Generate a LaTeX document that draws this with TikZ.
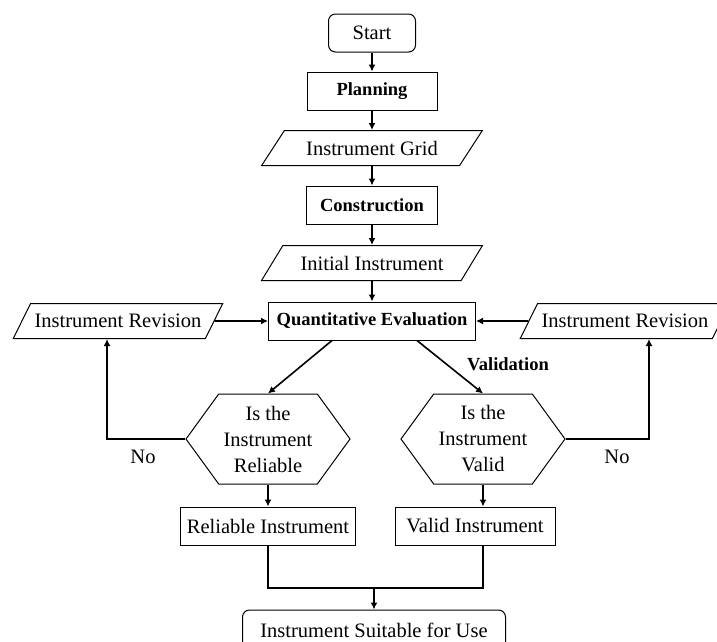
\documentclass[tikz,border=0pt]{standalone}
\usepackage{fontspec}
\setmainfont{Liberation Serif}
\usetikzlibrary{arrows.meta,positioning,shapes.geometric,shapes.symbols}

\begin{document}
\begin{tikzpicture}[x=1pt, y=1pt,
        txt/.style={font=\fontsize{20.5}{26}\selectfont},
        btxt/.style={font=\fontsize{18.5}{22}\selectfont\bfseries},
        box/.style={draw, line width=1pt, minimum height=38pt, inner xsep=6pt, txt},
        roundbox/.style={box, rounded corners=7pt},
        iobox/.style={draw, line width=1pt, trapezium, trapezium left angle=51, trapezium right angle=129,
            trapezium stretches=true, minimum width=221pt, minimum height=35pt, inner xsep=0pt, txt},
        decision/.style={draw, line width=1pt, signal, signal to=west and east, signal pointer angle=108,
            minimum width=164pt, minimum height=90pt, inner sep=0pt, align=center, txt},
        arr/.style={line width=1.6pt, -{Latex[length=7pt,width=7pt]}},
        ln/.style={line width=1.6pt}]
        \useasboundingbox (0,0) rectangle (717,-641);
        % main column
        \node[roundbox, minimum width=87pt] (start) at (372,-33) {Start};
        \node[box, minimum width=130pt, btxt] (plan) at (372,-91) {Planning};
        \node[iobox] (grid) at (372,-148) {Instrument Grid};
        \node[box, minimum width=131pt, btxt] (cons) at (372,-205) {Construction};
        \node[iobox] (init) at (372,-263) {Initial Instrument};
        \node[box, minimum width=207pt, btxt] (quant) at (372,-321) {Quantitative Evaluation};
        % revisions
        \node[iobox, minimum width=210pt] (revl) at (118,-321) {Instrument Revision};
        \node[iobox, minimum width=210pt] (revr) at (625,-321) {Instrument Revision};
        % decisions
        \node[decision] (rel) at (268,-439) {Is the\\Instrument\\Reliable};
        \node[decision] (val) at (483,-439) {Is the\\Instrument\\Valid};
        \node[btxt] (vlab) at (508,-364) {Validation};
        \node[txt] (nol) at (143,-457) {No};
        \node[txt] (nor) at (617,-457) {No};
        % results
        \node[box, minimum width=173pt] (relinst) at (268,-526) {Reliable Instrument};
        \node[box, minimum width=160pt] (valinst) at (475,-526) {Valid Instrument};
        \coordinate (join) at (374,-588);
        \node[roundbox, minimum width=263pt, minimum height=40pt] (final) at (374,-630) {Instrument Suitable for Use};

        \draw[arr] (start) -- (plan);
        \draw[arr] (plan) -- (grid);
        \draw[arr] (grid) -- (cons);
        \draw[arr] (cons) -- (init);
        \draw[arr] (init) -- (quant);
        \draw[arr] (revl) -- (quant);
        \draw[arr] (revr) -- (quant);
        \draw[arr] ([xshift=-40pt]quant.south) -- (rel.north);
        \draw[arr] ([xshift=45pt]quant.south) -- (val.north);
        \draw[arr] (rel.west) -| ([xshift=-11pt]revl.south);
        \draw[arr] (val.east) -| ([xshift=24pt]revr.south);
        \draw[arr] (rel.south) -- (rel.south |- relinst.north);
        \draw[arr] (val.south) -- (val.south |- valinst.north);
        \draw[ln] (relinst.south) |- (join) -| ([xshift=8pt]valinst.south);
        \draw[arr] (join) -- (final);
\end{tikzpicture}
\end{document}
